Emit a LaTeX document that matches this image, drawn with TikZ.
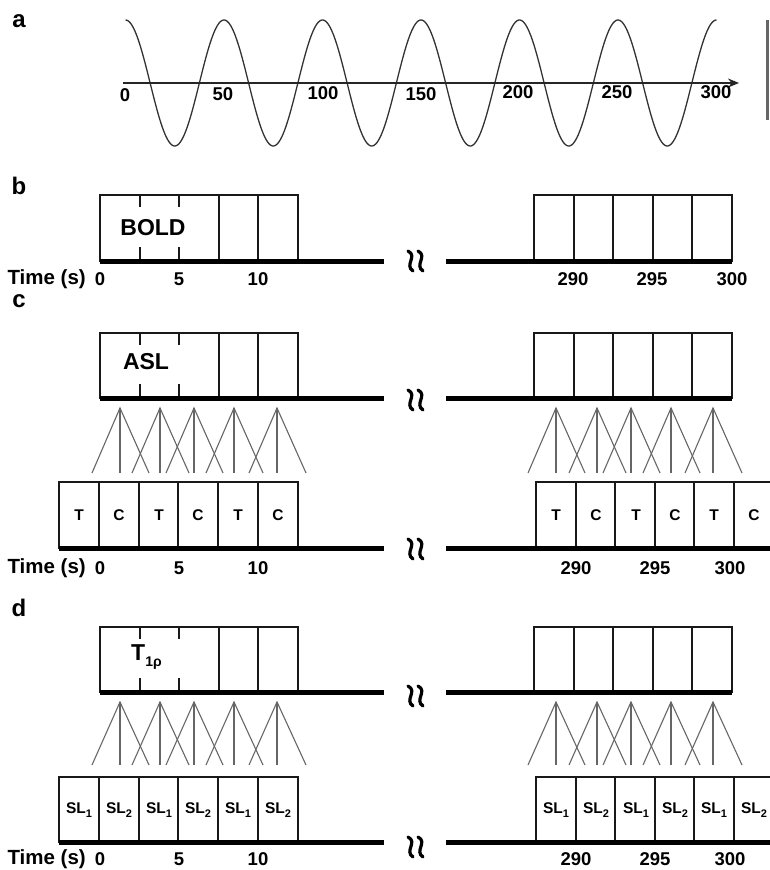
\documentclass[tikz,border=0pt]{standalone}
\usepackage{fontspec}
\setmainfont{Liberation Sans}
\usetikzlibrary{arrows.meta}
\tikzset{
  boxline/.style={draw=black!90, line width=2pt},
  tline/.style={draw=black, line width=5pt},
  fanline/.style={draw=black!60, line width=1.1pt},
  waveline/.style={draw=black!80, line width=1.3pt},
  axisline/.style={draw=black!85, line width=2.2pt, -{Stealth[length=11pt,width=9pt]}},
  brkline/.style={draw=black, line width=3.2pt, line cap=round},
  panellbl/.style={font=\fontsize{24}{24}\selectfont\bfseries, inner sep=0pt},
  numlbl/.style={font=\fontsize{18.5}{18.5}\selectfont\bfseries, inner sep=0pt},
  timelbl/.style={font=\fontsize{20.5}{20.5}\selectfont\bfseries, inner sep=0pt, anchor=east},
  biglbl/.style={font=\fontsize{23}{23}\selectfont\bfseries, inner sep=0pt},
  smalllbl/.style={font=\fontsize{15.5}{15.5}\selectfont\bfseries, inner sep=0pt},
}
\newcommand\mysubs[1]{\raisebox{-0.45ex}{\fontsize{11}{11}\selectfont #1}}
\newcommand\toprowL[2]{%
  \draw[boxline] (100,#1) rectangle (298,#2);
  \foreach \xx in {218.8,258.4} \draw[boxline] (\xx,#1) -- (\xx,#2);
  \foreach \xx in {139.6,179.2} {\draw[boxline] (\xx,#1) -- ++(0,12); \draw[boxline] (\xx,#2) -- ++(0,-14);}
  \draw[tline] (100,#2) -- (384,#2);
}
\newcommand\toprowR[2]{%
  \draw[boxline] (534,#1) rectangle (732,#2);
  \foreach \xx in {573.6,613.2,652.8,692.4} \draw[boxline] (\xx,#1) -- (\xx,#2);
  \draw[tline] (446,#2) -- (732,#2);
}
\newcommand\botrowL[2]{%
  \draw[boxline] (59,#1) rectangle (298,#2);
  \foreach \xx in {98.8,138.6,178.4,218.2,258} \draw[boxline] (\xx,#1) -- (\xx,#2);
  \draw[tline] (59,#2) -- (384,#2);
}
\newcommand\botrowR[2]{%
  \draw[boxline] (536,#2) -- (536,#1) -- (780,#1);
  \foreach \xx in {575.5,615,654.5,694,733.5} \draw[boxline] (\xx,#1) -- (\xx,#2);
  \draw[tline] (446,#2) -- (780,#2);
}
\newcommand\fans[3]{%
  \foreach \ax in {#3} {
    \draw[fanline] (\ax-28,#2) -- (\ax,#1) -- (\ax+29,#2);
    \draw[fanline] (\ax,#1) -- (\ax,#2);
  }
}
\newcommand\brk[1]{%
  \foreach \dx in {0,10} \draw[brkline] (408+\dx,#1-10) .. controls (418+\dx,#1-5) and (404+\dx,#1+4) .. (413+\dx,#1+10);
}
\begin{document}
\begin{tikzpicture}[x=1pt,y=-1pt]
\useasboundingbox (0,0) rectangle (770,870);
% ---------- panel a
\node[panellbl] (pa) at (19,21) {a};
\draw[waveline] plot[domain=0:300, samples=500, smooth] ({125.5+1.97*\x},{83-63*cos(7.2*\x)});
\coordinate (ax0) at (123,83);
\coordinate (ax1) at (739,83);
\draw[axisline] (ax0) -- (ax1);
\node[numlbl] (a0) at (125,95) {0};
\node[numlbl] (a50) at (223,94) {50};
\node[numlbl] (a100) at (323,93) {100};
\node[numlbl] (a150) at (421,94) {150};
\node[numlbl] (a200) at (518,92) {200};
\node[numlbl] (a250) at (617,92) {250};
\node[numlbl] (a300) at (716,92) {300};
\coordinate (g0) at (767,20);
\coordinate (g1) at (767,120);
\draw[draw=black!60, line width=3pt] (g0) -- (g1);
% ---------- panel b
\node[panellbl] (pb) at (19,186) {b};
\toprowL{195}{261}
\toprowR{195}{261}
\brk{261}
\node[biglbl] (bold) at (153,228) {BOLD};
\node[timelbl] (bt) at (86,279) {Time (s)};
\node[numlbl] (b0) at (100,279) {0};
\node[numlbl] (b5) at (179,279) {5};
\node[numlbl] (b10) at (258,279) {10};
\node[numlbl] (b290) at (573,279) {290};
\node[numlbl] (b295) at (652,279) {295};
\node[numlbl] (b300) at (732,279) {300};
% ---------- panel c
\node[panellbl] (pc) at (19,301) {c};
\toprowL{333}{398}
\toprowR{333}{398}
\brk{400}
\node[biglbl] (asl) at (146,362) {ASL};
\fans{408}{473}{120,160,194,234,277}
\fans{408}{473}{556,597,631,671,713}
\botrowL{482}{548}
\botrowR{482}{548}
\brk{549}
\foreach \xx/\tt [count=\i] in {79/T,119/C,159/T,198/C,238/T,278/C}
  \node[smalllbl] (cl\i) at (\xx,515) {\tt};
\foreach \xx/\tt [count=\i] in {556/T,596/C,636/T,675/C,714/T,754/C}
  \node[smalllbl] (cr\i) at (\xx,515) {\tt};
\node[timelbl] (ct) at (86,568) {Time (s)};
\node[numlbl] (c0) at (100,568) {0};
\node[numlbl] (c5) at (179,568) {5};
\node[numlbl] (c10) at (258,568) {10};
\node[numlbl] (c290) at (576,568) {290};
\node[numlbl] (c295) at (655,568) {295};
\node[numlbl] (c300) at (730,568) {300};
% ---------- panel d
\node[panellbl] (pd) at (19,608) {d};
\toprowL{627}{692}
\toprowR{627}{692}
\brk{696}
\node[biglbl, anchor=west] (trho) at (131,657) {T\raisebox{-0.55ex}{\fontsize{14}{14}\selectfont 1ρ}};
\fans{702}{765}{120,160,194,234,277}
\fans{702}{765}{556,597,631,671,713}
\botrowL{777}{842}
\botrowR{777}{842}
\brk{847}
\foreach \xx/\tt [count=\i] in {79/1,119/2,159/1,198/2,238/1,278/2}
  \node[smalllbl] (dl\i) at (\xx,810) {SL\mysubs{\tt}};
\foreach \xx/\tt [count=\i] in {556/1,596/2,636/1,675/2,714/1,754/2}
  \node[smalllbl] (dr\i) at (\xx,810) {SL\mysubs{\tt}};
\node[timelbl] (dt) at (86,859) {Time (s)};
\node[numlbl] (d0) at (100,859) {0};
\node[numlbl] (d5) at (179,859) {5};
\node[numlbl] (d10) at (258,859) {10};
\node[numlbl] (d290) at (576,859) {290};
\node[numlbl] (d295) at (655,859) {295};
\node[numlbl] (d300) at (730,859) {300};
\end{tikzpicture}
\end{document}
